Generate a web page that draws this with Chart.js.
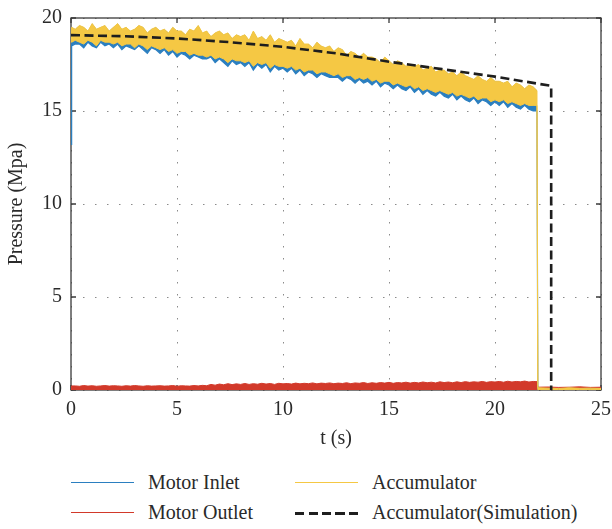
<!DOCTYPE html>
<html>
<head>
<meta charset="utf-8">
<script src="https://cdn.jsdelivr.net/npm/chart.js@4/dist/chart.umd.min.js"></script>
<style>
  body { margin: 0; background: #fff; }
  #wrap { position: relative; width: 612px; height: 529px; }
  #chart { position: absolute; left: 0; top: 0; }
  .item { position: absolute; font: 20px "Liberation Serif", "Times New Roman", serif; color: #2a2a2a; line-height: 24px; white-space: nowrap; }
  .swatch { position: absolute; width: 63px; height: 0; }
</style>
</head>
<body>
<div id="wrap">
  <canvas id="chart" width="612" height="460"></canvas>
  <div id="legend"></div>
</div>
<script>
// sample times (s) shared by the measured traces
const bandT = [0, 0.03,
  0.2, 0.4, 0.6, 0.8, 1, 1.2, 1.4, 1.6, 1.8, 2,
  2.2, 2.4, 2.6, 2.8, 3, 3.2, 3.4, 3.6, 3.8, 4,
  4.2, 4.4, 4.6, 4.8, 5, 5.2, 5.4, 5.6, 5.8, 6,
  6.2, 6.4, 6.6, 6.8, 7, 7.2, 7.4, 7.6, 7.8, 8,
  8.2, 8.4, 8.6, 8.8, 9, 9.2, 9.4, 9.6, 9.8, 10,
  10.2, 10.4, 10.6, 10.8, 11, 11.2, 11.4, 11.6, 11.8, 12,
  12.2, 12.4, 12.6, 12.8, 13, 13.2, 13.4, 13.6, 13.8, 14,
  14.2, 14.4, 14.6, 14.8, 15, 15.2, 15.4, 15.6, 15.8, 16,
  16.2, 16.4, 16.6, 16.8, 17, 17.2, 17.4, 17.6, 17.8, 18,
  18.2, 18.4, 18.6, 18.8, 19, 19.2, 19.4, 19.6, 19.8, 20,
  20.2, 20.4, 20.6, 20.8, 21, 21.2, 21.4, 21.6, 21.8,
  21.98, 22.02, 22.5, 23, 23.5, 24, 24.5, 25];

// accumulator pressure, upper edge of the oscillation (MPa)
const accHigh = [19.2, 19.5,
  19.4, 19.6, 19.5, 19.3, 19.7, 19.4, 19.5, 19.6, 19.3, 19.5,
  19.7, 19.4, 19.5, 19.3, 19.4, 19.6, 19.5, 19.2, 19.4, 19.5,
  19.3, 19.4, 19.2, 19.5, 19.3, 19.3, 19.1, 19.4, 19.3, 19.6,
  19.2, 19.3, 19.0, 19.2, 19.3, 19.1, 19.2, 18.9, 19.1, 19.0,
  19.1, 18.8, 19.3, 18.9, 19.0, 18.8, 19.1, 18.7, 18.9, 18.8,
  18.7, 18.8, 18.5, 18.9, 18.6, 18.6, 18.4, 18.7, 18.5, 18.4,
  18.5, 18.2, 18.4, 18.3, 18.0, 18.2, 18.1, 17.9, 18.1, 17.9,
  17.9, 17.8, 17.6, 17.9, 17.7, 17.5, 17.7, 17.6, 17.4, 17.5,
  17.4, 17.5, 17.2, 17.3, 17.4, 17.1, 17.2, 17.2, 17.0, 17.1,
  16.9, 17.1, 16.9, 16.8, 16.7, 16.9, 16.7, 16.6, 16.8, 16.6,
  16.6, 16.5, 16.6, 16.3, 16.5, 16.4, 16.2, 16.4, 16.3,
  16.1, 0.12, 0.1, 0.08, 0.12, 0.09, 0.1, 0.08];

// accumulator pressure, lower edge
const accLow = [18.8, 18.7,
  18.8, 18.7, 18.6, 18.8, 18.7, 18.5, 18.8, 18.7, 18.7, 18.6,
  18.7, 18.5, 18.6, 18.6, 18.4, 18.6, 18.5, 18.3, 18.5, 18.4,
  18.3, 18.4, 18.2, 18.3, 18.1, 18.2, 18.2, 18.0, 18.1, 18.0,
  18.0, 17.9, 18.0, 17.8, 17.9, 17.8, 17.6, 17.8, 17.7, 17.7,
  17.6, 17.7, 17.4, 17.6, 17.5, 17.6, 17.3, 17.5, 17.4, 17.4,
  17.3, 17.4, 17.2, 17.3, 17.1, 17.2, 17.2, 17.0, 17.1, 17.1,
  17.0, 16.9, 17.0, 16.8, 16.9, 16.9, 16.7, 16.8, 16.7, 16.8,
  16.6, 16.7, 16.5, 16.6, 16.6, 16.4, 16.5, 16.4, 16.3, 16.4,
  16.2, 16.3, 16.1, 16.2, 16.1, 16.0, 16.1, 16.0, 15.9, 16.0,
  15.8, 15.9, 15.8, 15.7, 15.8, 15.6, 15.7, 15.7, 15.5, 15.6,
  15.5, 15.6, 15.4, 15.5, 15.4, 15.3, 15.4, 15.3, 15.3,
  15.3, 0.02, 0.02, 0.03, 0.02, 0.03, 0.02, 0.02];

// motor inlet pressure, lower edge (upper edge runs under the accumulator trace)
const inletLow = [13.2, 18.5,
  18.6, 18.6, 18.4, 18.7, 18.5, 18.4, 18.7, 18.5, 18.6, 18.4,
  18.6, 18.3, 18.5, 18.4, 18.3, 18.5, 18.3, 18.1, 18.4, 18.3,
  18.1, 18.3, 18.0, 18.2, 17.9, 18.1, 18.0, 17.8, 18.0, 17.9,
  17.8, 17.8, 17.9, 17.6, 17.8, 17.6, 17.4, 17.7, 17.5, 17.6,
  17.4, 17.6, 17.2, 17.5, 17.3, 17.5, 17.1, 17.4, 17.2, 17.3,
  17.1, 17.3, 17.0, 17.2, 16.9, 17.1, 17.0, 16.8, 17.0, 16.9,
  16.8, 16.8, 16.8, 16.6, 16.8, 16.7, 16.5, 16.7, 16.5, 16.6,
  16.4, 16.6, 16.3, 16.5, 16.4, 16.2, 16.4, 16.2, 16.1, 16.3,
  16.0, 16.2, 15.9, 16.1, 15.9, 15.8, 16.0, 15.8, 15.7, 15.9,
  15.6, 15.8, 15.6, 15.5, 15.7, 15.4, 15.6, 15.5, 15.3, 15.5,
  15.3, 15.5, 15.2, 15.4, 15.2, 15.1, 15.3, 15.1, 15.0,
  15.0, 0.05, 0.06, 0.04, 0.05, 0.06, 0.04, 0.05];

// motor outlet pressure, upper edge
const outletHigh = [0.2, 0.22,
  0.22, 0.2, 0.24, 0.21, 0.23, 0.2, 0.22, 0.24, 0.21, 0.23,
  0.22, 0.2, 0.23, 0.21, 0.24, 0.22, 0.2, 0.23, 0.21, 0.22,
  0.23, 0.21, 0.22, 0.24, 0.2, 0.23, 0.22, 0.21, 0.24, 0.22,
  0.25, 0.23, 0.3, 0.26, 0.32, 0.28, 0.34, 0.29, 0.33, 0.3,
  0.35, 0.3, 0.34, 0.31, 0.36, 0.32, 0.35, 0.3, 0.36, 0.33,
  0.35, 0.32, 0.37, 0.33, 0.36, 0.34, 0.38, 0.33, 0.37, 0.35,
  0.38, 0.34, 0.37, 0.35, 0.39, 0.34, 0.38, 0.36, 0.4, 0.35,
  0.39, 0.36, 0.4, 0.37, 0.41, 0.36, 0.4, 0.38, 0.42, 0.37,
  0.41, 0.38, 0.43, 0.39, 0.42, 0.38, 0.44, 0.4, 0.43, 0.39,
  0.44, 0.4, 0.45, 0.41, 0.44, 0.42, 0.46, 0.41, 0.45, 0.43,
  0.46, 0.42, 0.47, 0.43, 0.46, 0.44, 0.48, 0.43, 0.46,
  0.45, 0.15, 0.16, 0.14, 0.15, 0.17, 0.14, 0.15];

// simulated accumulator pressure
const simT = [0, 2.5, 5, 7.5, 10, 12.5, 15, 17.5, 20, 22.65, 22.65];
const simP = [19.08, 19.02, 18.9, 18.7, 18.45, 18.1, 17.65, 17.25, 16.85, 16.35, 0];

const xTicks = [0, 5, 10, 15, 20, 25];
const yTicks = [0, 5, 10, 15, 20];

const BLUE = '#2b7fc0';
const RED = '#d2392a';
const YELLOW = '#f5c844';
const INK = '#2a2a2a';

const pts = (t, v) => t.map((x, i) => ({ x: x, y: v[i] }));

Chart.defaults.font.family = '"Liberation Serif", "Times New Roman", serif';
Chart.defaults.font.size = 20;
Chart.defaults.color = INK;

// box around the plot with short inward tick marks on every side
const frame = {
  id: 'frame',
  beforeDatasetsDraw(chart) {
    const { ctx, chartArea: a, scales } = chart;
    ctx.save();
    ctx.strokeStyle = '#3a3a3a';
    ctx.lineWidth = 1.3;
    ctx.strokeRect(a.left, a.top, a.right - a.left, a.bottom - a.top);
    ctx.beginPath();
    xTicks.forEach(v => {
      const px = scales.x.getPixelForValue(v);
      ctx.moveTo(px, a.bottom); ctx.lineTo(px, a.bottom - 5);
      ctx.moveTo(px, a.top); ctx.lineTo(px, a.top + 5);
    });
    yTicks.forEach(v => {
      const py = scales.y.getPixelForValue(v);
      ctx.moveTo(a.left, py); ctx.lineTo(a.left + 5, py);
      ctx.moveTo(a.right, py); ctx.lineTo(a.right - 5, py);
    });
    ctx.stroke();
    ctx.restore();
  }
};

const ctx = document.getElementById('chart');

new Chart(ctx, {
  type: 'line',
  data: {
    datasets: [
      { label: 'Accumulator(Simulation)', data: pts(simT, simP), borderColor: '#1e1e1e', borderWidth: 2.6, borderDash: [9, 4.5], fill: false },
      { label: 'Accumulator', data: pts(bandT, accHigh), borderColor: YELLOW, borderWidth: 1, fill: false },
      { label: 'Accumulator low', data: pts(bandT, accLow), borderColor: YELLOW, backgroundColor: YELLOW, borderWidth: 1, fill: 1 },
      { label: 'Motor Inlet', data: pts(bandT, inletLow), borderColor: BLUE, backgroundColor: BLUE, borderWidth: 1.2, fill: 1,
        clip: { left: 2, top: 0, right: 0, bottom: 0 } },
      { label: 'Motor Outlet', data: pts(bandT, outletHigh), borderColor: RED, backgroundColor: RED, borderWidth: 1, fill: 'origin' }
    ]
  },
  options: {
    responsive: false,
    animation: false,
    layout: { padding: { top: 18, right: 11, left: 0, bottom: 0 } },
    elements: { point: { radius: 0 }, line: { tension: 0 } },
    plugins: { legend: { display: false }, tooltip: { enabled: false } },
    scales: {
      x: {
        type: 'linear', min: 0, max: 25,
        afterBuildTicks: s => { s.ticks = xTicks.map(v => ({ value: v })); },
        afterFit: s => { s.height = 70; s.paddingLeft = 0; s.paddingRight = 0; },
        ticks: { padding: 7.5, maxRotation: 0 },
        grid: { color: '#8a8a8a', lineWidth: 1, drawTicks: false },
        border: { display: false, dash: [1.5, 10.5] },
        title: { display: true, text: 't (s)', padding: { top: 0, bottom: 9 } }
      },
      y: {
        min: 0, max: 20,
        afterBuildTicks: s => { s.ticks = yTicks.map(v => ({ value: v })); },
        afterFit: s => { s.width = 71; s.paddingTop = 0; s.paddingBottom = 0; },
        ticks: { padding: 9 },
        grid: { color: '#8a8a8a', lineWidth: 1, drawTicks: false },
        border: { display: false, dash: [1.5, 10.5] },
        title: { display: true, text: 'Pressure (Mpa)', padding: { top: 5, bottom: 0 } }
      }
    }
  },
  plugins: [frame]
});

// legend in two columns under the plot
const legendItems = [
  { text: 'Motor Inlet', color: BLUE, style: 'solid', col: 0, row: 0 },
  { text: 'Motor Outlet', color: RED, style: 'solid', col: 0, row: 1 },
  { text: 'Accumulator', color: YELLOW, style: 'solid', col: 1, row: 0 },
  { text: 'Accumulator(Simulation)', color: '#1e1e1e', style: 'dashed', col: 1, row: 1 }
];
const legend = document.getElementById('legend');
legendItems.forEach(it => {
  const cy = 483 + it.row * 30;
  const lx = it.col ? 295 : 71;
  const sw = document.createElement('div');
  sw.className = 'swatch';
  sw.style.left = lx + 'px';
  sw.style.top = (cy - 1) + 'px';
  if (it.style === 'dashed') {
    sw.style.height = '2.5px';
    sw.style.background = `repeating-linear-gradient(90deg, ${it.color} 0 9px, transparent 9px 13.5px)`;
  } else {
    sw.style.borderTop = `1.6px solid ${it.color}`;
  }
  legend.appendChild(sw);
  const tx = document.createElement('div');
  tx.className = 'item';
  tx.style.left = (lx + 77) + 'px';
  tx.style.top = (cy - 13) + 'px';
  tx.textContent = it.text;
  legend.appendChild(tx);
});
</script>
</body>
</html>
